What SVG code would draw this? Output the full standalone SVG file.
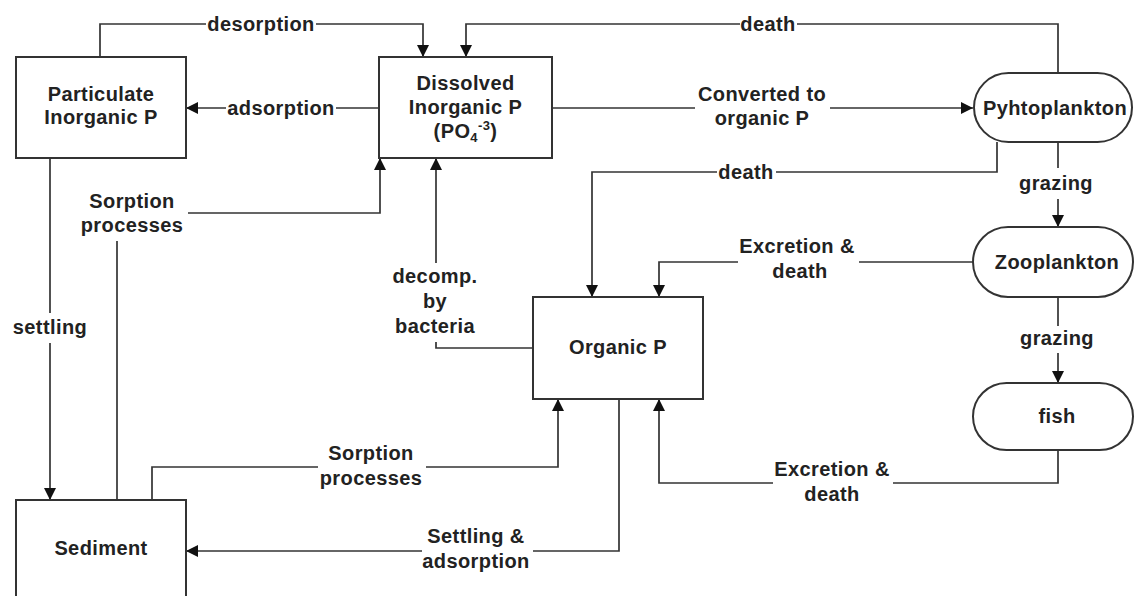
<svg xmlns="http://www.w3.org/2000/svg" width="1134" height="596" viewBox="0 0 1134 596">
<defs>
<style>
text{font-family:"Liberation Sans",Arial,sans-serif;font-weight:bold;font-size:20px;fill:#222;text-anchor:middle;letter-spacing:0.4px}
.box{fill:#fff;stroke:#333;stroke-width:2}
.ln{fill:none;stroke:#333;stroke-width:1.7}
.arr{fill:none;stroke:#333;stroke-width:1.7;marker-end:url(#ah)}
</style>
<marker id="ah" markerUnits="userSpaceOnUse" markerWidth="12" markerHeight="12" refX="12" refY="6" orient="auto">
<path d="M0,0 L12,6 L0,12 z" fill="#111"/>
</marker>
</defs>
<rect width="1134" height="596" fill="#fff"/>
<g id="connectors">
<!-- desorption -->
<polyline class="ln" points="100,57 100,24 206,24"/>
<polyline class="arr" points="316,24 423,24 423,57"/>
<!-- death top -->
<polyline class="ln" points="1058,73 1058,24 797,24"/>
<polyline class="arr" points="740,24 466,24 466,57"/>
<!-- adsorption -->
<polyline class="ln" points="379,108 336,108"/>
<polyline class="arr" points="226,108 186,108"/>
<!-- converted -->
<polyline class="ln" points="552,108 695,108"/>
<polyline class="arr" points="830,108 973,108"/>
<!-- death second -->
<polyline class="ln" points="997,142 997,172 776,172"/>
<polyline class="arr" points="717,172 592,172 592,297"/>
<!-- grazing 1 -->
<polyline class="ln" points="1058,142 1058,168"/>
<polyline class="arr" points="1058,199 1058,227"/>
<!-- sorption top -->
<polyline class="ln" points="117,500 117,241"/>
<polyline class="arr" points="188,213 380,213 380,158"/>
<!-- settling -->
<polyline class="ln" points="50,158 50,313"/>
<polyline class="arr" points="50,343 50,500"/>
<!-- decomp -->
<polyline class="ln" points="533,348 436,348 436,342"/>
<polyline class="arr" points="436,263 436,158"/>
<!-- excretion upper -->
<polyline class="ln" points="973,262 859,262"/>
<polyline class="arr" points="738,262 659,262 659,297"/>
<!-- grazing 2 -->
<polyline class="ln" points="1058,297 1058,326"/>
<polyline class="arr" points="1058,353 1058,383"/>
<!-- excretion lower -->
<polyline class="ln" points="1058,450 1058,483 893,483"/>
<polyline class="arr" points="773,483 659,483 659,399"/>
<!-- sorption bottom -->
<polyline class="ln" points="152,500 152,467 318,467"/>
<polyline class="arr" points="426,467 558,467 558,399"/>
<!-- settling & adsorption -->
<polyline class="ln" points="619,399 619,551 533,551"/>
<polyline class="arr" points="422,551 186,551"/>
</g>
<g id="labels">
<text x="261" y="31">desorption</text>
<text x="768" y="31">death</text>
<text x="281" y="115">adsorption</text>
<text x="762" y="101">Converted to</text>
<text x="762" y="125">organic P</text>
<text x="746" y="179">death</text>
<text x="1056" y="190">grazing</text>
<text x="132" y="208">Sorption</text>
<text x="132" y="232">processes</text>
<text x="50" y="334">settling</text>
<text x="435" y="283">decomp.</text>
<text x="435" y="308">by</text>
<text x="435" y="333">bacteria</text>
<text x="797" y="253">Excretion &amp;</text>
<text x="800" y="278">death</text>
<text x="1057" y="345">grazing</text>
<text x="832" y="476">Excretion &amp;</text>
<text x="832" y="501">death</text>
<text x="371" y="460">Sorption</text>
<text x="371" y="485">processes</text>
<text x="476" y="543">Settling &amp;</text>
<text x="476" y="568">adsorption</text>
</g>
<g id="particulate">
<rect class="box" x="16" y="57" width="170" height="101"/>
<text x="101" y="101">Particulate</text>
<text x="101" y="124">Inorganic P</text>
</g>
<g id="dissolved">
<rect class="box" x="379" y="57" width="173" height="101"/>
<text x="465.5" y="90">Dissolved</text>
<text x="465.5" y="114">Inorganic P</text>
<text x="465.5" y="138">(PO<tspan font-size="13" dy="4">4</tspan><tspan font-size="13" dy="-12">-3</tspan><tspan dy="8">)</tspan></text>
</g>
<g id="phytoplankton">
<rect class="box" x="974" y="73" width="158" height="69" rx="34.5" ry="34.5" stroke-width="1.7"/>
<text x="1055" y="115">Pyhtoplankton</text>
</g>
<g id="zooplankton">
<rect class="box" x="973" y="227" width="160" height="70" rx="35" ry="35" stroke-width="1.7"/>
<text x="1057" y="269">Zooplankton</text>
</g>
<g id="fish">
<rect class="box" x="973" y="383" width="160" height="67" rx="33.5" ry="33.5" stroke-width="1.7"/>
<text x="1057" y="423">fish</text>
</g>
<g id="organic">
<rect class="box" x="533" y="297" width="170" height="102"/>
<text x="618" y="354">Organic P</text>
</g>
<g id="sediment">
<rect class="box" x="16" y="500" width="170" height="110"/>
<text x="101" y="555">Sediment</text>
</g>
</svg>
